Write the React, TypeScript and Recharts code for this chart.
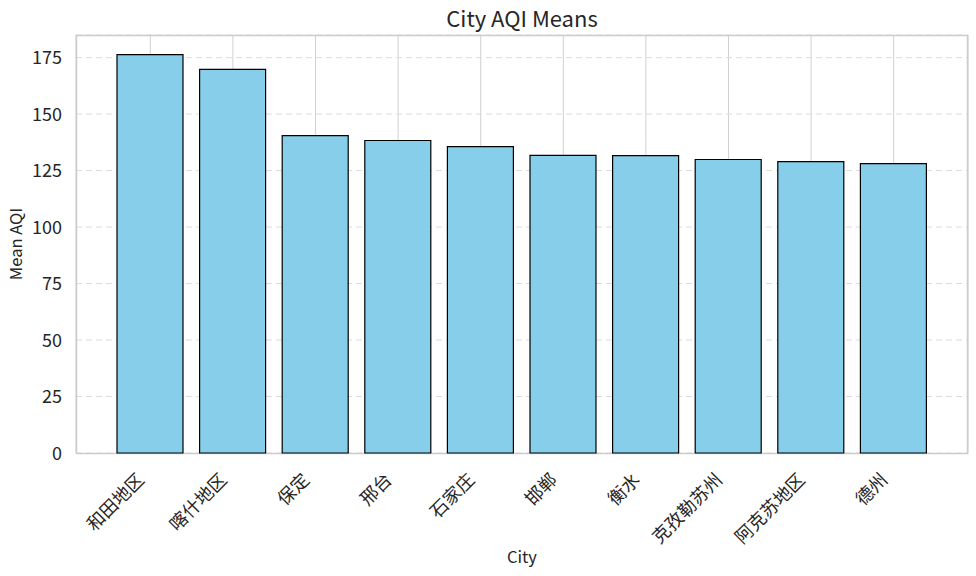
import React from "react";
import { BarChart, Bar, XAxis, YAxis, CartesianGrid } from "recharts";

const cities = ["和田地区", "喀什地区", "保定", "邢台", "石家庄", "邯郸", "衡水", "克孜勒苏州", "阿克苏地区", "德州"];
const aqiMeans = [176.3, 169.8, 140.5, 138.3, 135.6, 131.7, 131.6, 129.9, 129.0, 128.1];
const yTicks = [0, 25, 50, 75, 100, 125, 150, 175];

const data = cities.map((c, i) => ({ city: c, aqi: aqiMeans[i] }));

const FONT = "'Noto Sans CJK SC', 'Noto Sans', sans-serif";
const TEXT = "#262626";

const XTick = (props: any) => {
  const { x, payload } = props;
  const x0 = x - 5;
  const y0 = 481;
  return (
    <text
      x={x0}
      y={y0}
      transform={`rotate(-45 ${x0} ${y0})`}
      textAnchor="end"
      fontSize={18}
      fill={TEXT}
      fontFamily={FONT}
    >
      {payload.value}
    </text>
  );
};

const YTick = (props: any) => {
  const { y, payload } = props;
  return (
    <text x={62} y={y} dy={6.5} textAnchor="end" fontSize={18} fill={TEXT} fontFamily={FONT}>
      {payload.value}
    </text>
  );
};

export default function App() {
  return (
    <div style={{ position: "absolute", left: 0, top: 0, width: 976, height: 576, background: "#fff" }}>
      <BarChart
        width={976}
        height={576}
        data={data}
        margin={{ top: 35, right: 8, bottom: 113, left: 0 }}
        barCategoryGap={0}
      >
        <text x={522} y={27} textAnchor="middle" fontSize={22} fill={TEXT} fontFamily={FONT}>
          City AQI Means
        </text>
        <text
          x={22}
          y={244}
          transform="rotate(-90 22 244)"
          textAnchor="middle"
          fontSize={16.5}
          fill={TEXT}
          fontFamily={FONT}
        >
          Mean AQI
        </text>
        <text x={522} y={563} textAnchor="middle" fontSize={16.5} fill={TEXT} fontFamily={FONT}>
          City
        </text>
        <CartesianGrid horizontal={false} vertical={true} stroke="#d0d0d0" strokeWidth={1} />
        <CartesianGrid horizontal={true} vertical={false} stroke="#dcdcdc" strokeDasharray="6 4" strokeWidth={1} />
        <XAxis
          dataKey="city"
          interval={0}
          height={10}
          tickLine={false}
          axisLine={false}
          tickSize={0}
          tick={<XTick />}
          padding={{ left: 33, right: 33 }}
        />
        <YAxis
          width={76}
          domain={[0, 185]}
          ticks={yTicks}
          tickLine={false}
          axisLine={false}
          tick={<YTick />}
        />
        <Bar dataKey="aqi" fill="#87CEEB" stroke="#000" strokeWidth={1.2} barSize={66} isAnimationActive={false} />
        <rect x={76.5} y={35.5} width={891} height={418} fill="none" stroke="#cccccc" strokeWidth={1.5} />
      </BarChart>
    </div>
  );
}
